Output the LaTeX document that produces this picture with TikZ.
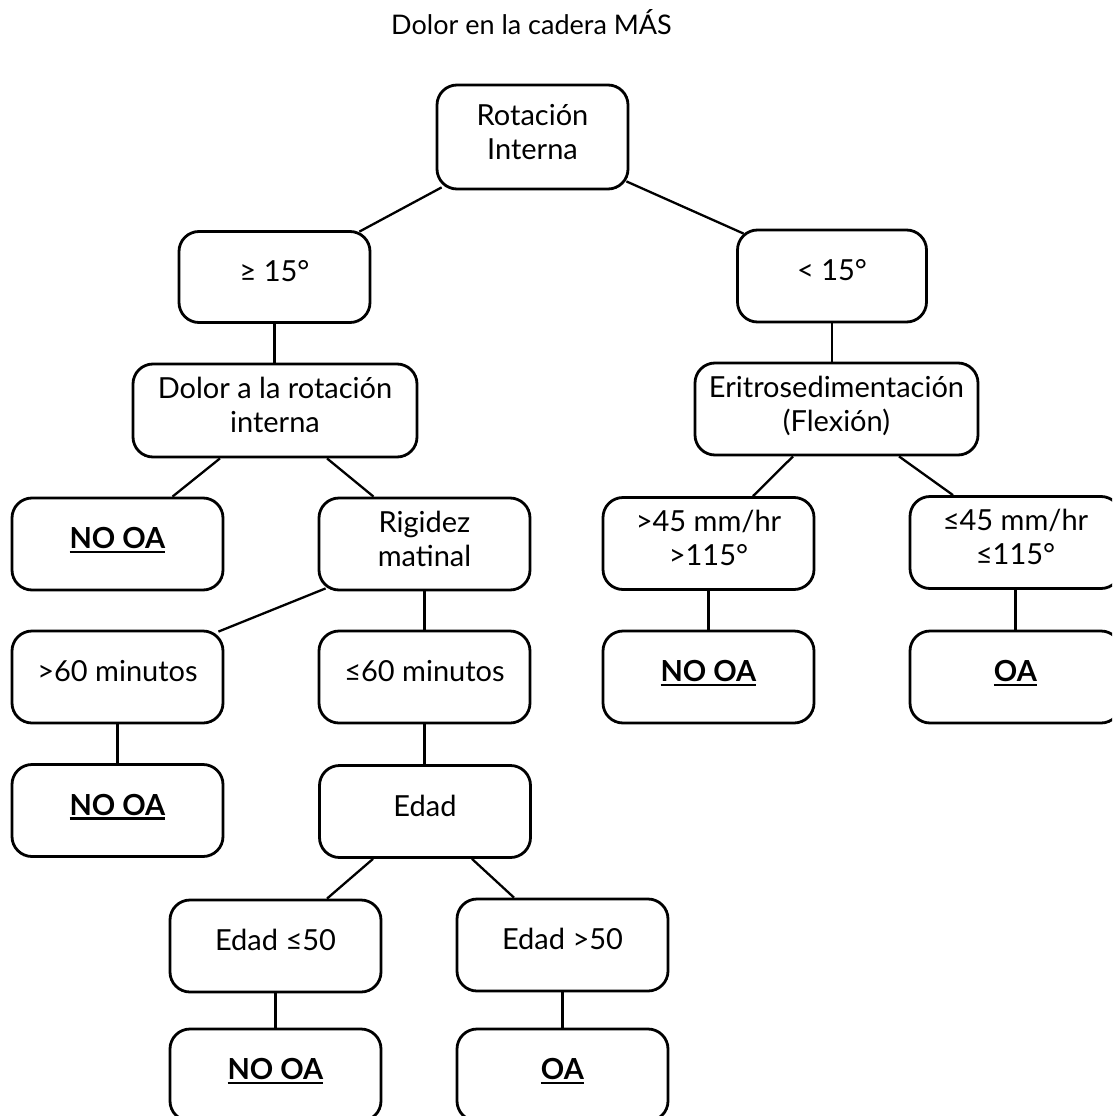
\documentclass[tikz,border=0pt]{standalone}
\usepackage{fontspec}
\setmainfont{Lato}
\newcommand{\myul}[1]{\setbox0\hbox{#1}\leavevmode\rlap{\rule[-4.5pt]{\wd0}{2.2pt}}\box0}
\newcommand{\twol}[2]{\begin{tabular}[b]{@{}c@{}}#1\\#2\end{tabular}}
\begin{document}
\begin{tikzpicture}[x=1pt,y=-1pt,
  txt/.style={font=\fontsize{29}{34}\selectfont},
  box/.style={txt, draw, line width=2.8pt, rounded corners=20pt,
    minimum width=211pt, minimum height=92pt, inner sep=0pt},
  one/.style={text height=25pt, text depth=16pt},
  two/.style={text height=56pt, text depth=12pt},
  conn/.style={line width=2.3pt}]
\useasboundingbox (0,0) rectangle (1112,1116);
\fill[white] (0,0) rectangle (1112,1116);
\clip (0,0) rectangle (1112,1116);

\node[font=\fontsize{27}{34}\selectfont, text height=24pt, text depth=15pt] (title) at (531.5,30.5) {Dolor en la cadera MÁS};

\node[box, two, minimum width=191pt, minimum height=104pt] (rot) at (532.5,137) {\twol{Rotación}{Interna}};
\node[box, one, minimum width=191pt, minimum height=91pt] (ge) at (274.5,277) {≥ 15°};
\node[box, one, minimum width=189pt] (lt) at (832,276) {< 15°};
\node[box, two, minimum width=284pt, minimum height=93pt] (dolor) at (275,410.5) {\twol{Dolor a la rotación}{interna}};
\node[box, two, minimum width=283pt] (eri) at (836.5,409) {\twol{Eritrosedimentación}{(Flexión)}};

\node[box, one] (noa1) at (117.5,544) {\myul{\textbf{NO OA}}};
\node[box, two] (rig) at (424.5,544) {\twol{Rigidez}{matinal}};
\node[box, two] (gt45) at (708.5,543.5) {\twol{>45 mm/hr}{>115°}};
\node[box, two] (le45) at (1015.5,542.5) {\twol{≤45 mm/hr}{≤115°}};

\node[box, one] (gt60) at (117.5,677) {>60 minutos};
\node[box, one] (le60) at (424.5,677) {≤60 minutos};
\node[box, one] (noa3) at (708.5,677) {\myul{\textbf{NO OA}}};
\node[box, one] (oa1) at (1015.5,677) {\myul{\textbf{OA}}};

\node[box, one] (noa2) at (117.5,810.5) {\myul{\textbf{NO OA}}};
\node[box, one] (edad) at (425,811.5) {Edad};

\node[box, one] (le50) at (275.5,946) {Edad ≤50};
\node[box, one] (gt50) at (562.5,945) {Edad >50};

\node[box, one] (noa4) at (275.5,1075) {\myul{\textbf{NO OA}}};
\node[box, one] (oa2) at (562.5,1075) {\myul{\textbf{OA}}};

% connectors
\draw[conn] ([xshift=6pt,yshift=3pt]rot.south west) -- ([xshift=-12pt,yshift=-1.5pt]ge.north east);
\draw[conn] ([xshift=-3pt,yshift=9pt]rot.south east) -- ([xshift=7.5pt,yshift=-5pt]lt.north west);
\draw[conn] (ge.south) -- (ge.south |- dolor.north);
\draw[conn] (lt.south) -- (lt.south |- eri.north);
\draw[conn] ([xshift=-55pt]dolor.south) -- ([xshift=55pt]noa1.north);
\draw[conn] ([xshift=52pt]dolor.south) -- ([xshift=-51pt]rig.north);
\draw[conn] ([xshift=-43.5pt]eri.south) -- ([xshift=44.5pt]gt45.north);
\draw[conn] ([xshift=62.5pt]eri.south) -- ([xshift=-62.5pt]le45.north);
\draw[conn] ([xshift=8pt,yshift=3pt]rig.south west) -- ([xshift=-6pt,yshift=-2pt]gt60.north east);
\draw[conn] (rig.south) -- (rig.south |- le60.north);
\draw[conn] (gt60.south) -- (gt60.south |- noa2.north);
\draw[conn] (le60.south) -- (le60.south |- edad.north);
\draw[conn] (gt45.south) -- (gt45.south |- noa3.north);
\draw[conn] (le45.south) -- (le45.south |- oa1.north);
\draw[conn] ([xshift=-52pt]edad.south) -- ([xshift=51.5pt]le50.north);
\draw[conn] ([xshift=47pt]edad.south) -- ([xshift=-48.5pt]gt50.north);
\draw[conn] (le50.south) -- (le50.south |- noa4.north);
\draw[conn] (gt50.south) -- (gt50.south |- oa2.north);
\end{tikzpicture}
\end{document}
